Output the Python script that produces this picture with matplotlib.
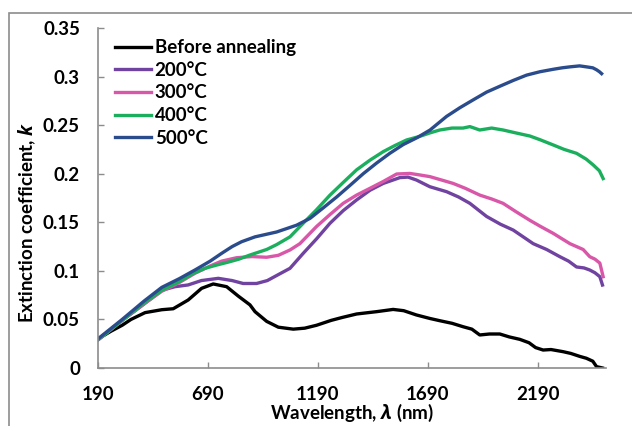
import matplotlib
matplotlib.use("Agg")
import matplotlib.pyplot as plt
from matplotlib.patches import Rectangle

plt.rcParams['font.family'] = ['Lato', 'DejaVu Sans']
plt.rcParams['font.weight'] = 'bold'
plt.rcParams['mathtext.fontset'] = 'custom'
plt.rcParams['mathtext.it'] = 'Open Sans:italic:bold'
plt.rcParams['mathtext.rm'] = 'Lato:bold'

# ---------- data ----------
wl_before = [190, 250, 300, 340, 404, 480, 532, 600, 661, 714, 775, 828, 881, 904, 957,
             1010, 1078, 1130, 1184, 1250, 1300, 1366, 1457, 1532, 1580, 1638, 1699, 1744,
             1800, 1850, 1890, 1926, 1970, 2017, 2060, 2108, 2150, 2180, 2214, 2250, 2305,
             2340, 2380, 2411, 2440, 2457, 2484]
k_before = [0.030, 0.038, 0.044, 0.050, 0.057, 0.060, 0.061, 0.070, 0.082, 0.0865, 0.0837,
            0.074, 0.065, 0.058, 0.048, 0.042, 0.040, 0.041, 0.044, 0.049, 0.052, 0.0556,
            0.058, 0.0603, 0.059, 0.0546, 0.051, 0.0487, 0.046, 0.0425, 0.040, 0.034, 0.035,
            0.035, 0.032, 0.0295, 0.026, 0.021, 0.0185, 0.019, 0.0168, 0.015, 0.012, 0.010,
            0.007, 0.0014, 0.0]

wl_200 = [190, 300, 400, 480, 540, 600, 660, 737, 800, 850, 911, 960, 1017, 1063, 1123,
          1184, 1245, 1305, 1366, 1427, 1487, 1563, 1600, 1638, 1699, 1775, 1830, 1881,
          1957, 2020, 2078, 2130, 2169, 2230, 2290, 2330, 2366, 2400, 2426, 2450, 2472, 2484]
k_200 = [0.029, 0.049, 0.066, 0.080, 0.0837, 0.0855, 0.090, 0.0923, 0.090, 0.087, 0.087,
         0.090, 0.097, 0.1026, 0.118, 0.133, 0.149, 0.162, 0.173, 0.183, 0.190, 0.196,
         0.1965, 0.1935, 0.1866, 0.1815, 0.176, 0.1695, 0.156, 0.148, 0.142, 0.134, 0.128,
         0.122, 0.1146, 0.110, 0.104, 0.103, 0.1009, 0.098, 0.094, 0.0854]

wl_300 = [190, 300, 400, 480, 560, 631, 700, 752, 820, 889, 957, 1010, 1063, 1108, 1184,
          1245, 1305, 1366, 1427, 1487, 1548, 1608, 1654, 1699, 1760, 1805, 1860, 1926,
          1980, 2032, 2090, 2154, 2200, 2260, 2300, 2336, 2396, 2426, 2450, 2472, 2487]
k_300 = [0.029, 0.049, 0.066, 0.079, 0.088, 0.0975, 0.105, 0.110, 0.1135, 0.1147, 0.114,
         0.116, 0.1215, 0.128, 0.1457, 0.158, 0.1695, 0.178, 0.185, 0.192, 0.1997, 0.2003,
         0.1987, 0.197, 0.193, 0.190, 0.185, 0.178, 0.174, 0.1695, 0.161, 0.152, 0.146,
         0.1386, 0.133, 0.128, 0.122, 0.1146, 0.112, 0.108, 0.094]

wl_400 = [190, 300, 400, 480, 560, 620, 676, 730, 782, 830, 881, 957, 1002, 1063, 1123,
          1184, 1245, 1305, 1366, 1427, 1487, 1540, 1593, 1654, 1699, 1744, 1800, 1850,
          1881, 1926, 1980, 2032, 2090, 2154, 2200, 2260, 2310, 2366, 2410, 2442, 2470, 2487]
k_400 = [0.029, 0.049, 0.067, 0.080, 0.089, 0.097, 0.1026, 0.106, 0.109, 0.112, 0.1163,
         0.122, 0.127, 0.135, 0.149, 0.163, 0.178, 0.191, 0.204, 0.214, 0.2227, 0.229,
         0.2347, 0.2385, 0.242, 0.245, 0.247, 0.247, 0.2485, 0.245, 0.247, 0.245, 0.242,
         0.2388, 0.235, 0.2296, 0.225, 0.221, 0.215, 0.209, 0.203, 0.195]

wl_500 = [190, 300, 400, 480, 560, 631, 700, 752, 800, 843, 904, 1002, 1093, 1154, 1215,
          1275, 1336, 1396, 1457, 1517, 1578, 1640, 1700, 1775, 1836, 1896, 1957, 2017,
          2078, 2139, 2200, 2260, 2300, 2336, 2380, 2411, 2440, 2457, 2470, 2480]
k_500 = [0.030, 0.050, 0.069, 0.083, 0.092, 0.1009, 0.110, 0.118, 0.125, 0.130, 0.135,
         0.140, 0.147, 0.154, 0.165, 0.176, 0.188, 0.200, 0.211, 0.221, 0.230, 0.237,
         0.245, 0.259, 0.268, 0.276, 0.284, 0.290, 0.296, 0.3015, 0.305, 0.3075, 0.309,
         0.310, 0.311, 0.310, 0.309, 0.307, 0.305, 0.303]

labels = ["Before annealing", "200°C", "300°C", "400°C", "500°C"]
colors = ["#000000", "#7043A0", "#D957A8", "#1BAF5D", "#2B4C8C"]
x_ticks = [190, 690, 1190, 1690, 2190]
y_ticks = [0, 0.05, 0.1, 0.15, 0.2, 0.25, 0.3, 0.35]
y_ticklabels = ["0", "0.05", "0.1", "0.15", "0.2", "0.25", "0.3", "0.35"]

series = [(wl_before, k_before), (wl_200, k_200), (wl_300, k_300),
          (wl_400, k_400), (wl_500, k_500)]

fig = plt.figure(figsize=(6.32, 4.26), dpi=100)
ax = fig.add_axes([98 / 632, 1 - 368 / 426, 508 / 632, 340 / 426])

for (x, y), lab, c in zip(series, labels, colors):
    ax.plot(x, y, color=c, lw=2.4, label=lab)

ax.set_xlim(190, 2500)
ax.set_ylim(0, 0.35)
ax.set_xticks(x_ticks)
ax.set_yticks(y_ticks)
ax.set_yticklabels(y_ticklabels)

grey = "#8C8C8C"
for s in ["top", "right"]:
    ax.spines[s].set_visible(False)
for s in ["left", "bottom"]:
    ax.spines[s].set_color(grey)
    ax.spines[s].set_linewidth(1.2)
ax.tick_params(direction="in", length=4.5, width=1.0, color=grey,
               labelsize=13.5, pad=13)
for t in ax.get_xticklabels() + ax.get_yticklabels():
    t.set_fontweight("bold")

ax.set_xlabel(r"Wavelength, $\lambda$ (nm)", fontsize=13.5, fontweight="bold")
ax.set_ylabel(r"Extinction coefficient, $k$", fontsize=13.5, fontweight="bold")
ax.xaxis.set_label_coords(0.5, -0.1)
ax.yaxis.set_label_coords(-0.118, 0.43)

leg = ax.legend(loc="upper left", frameon=False, fontsize=13.5, handlelength=1.9,
                handletextpad=0.2, labelspacing=0.3, borderaxespad=0.2,
                bbox_to_anchor=(0.012, 1.0))
for t in leg.get_texts():
    t.set_fontweight("bold")

# outer chart-area border
fig.patches.append(Rectangle((9 / 632, -0.2), 1.2, 1.2 - 13 / 426, transform=fig.transFigure,
                             fill=False, edgecolor=grey, lw=1.2))

fig.savefig("out.png", dpi=100)
